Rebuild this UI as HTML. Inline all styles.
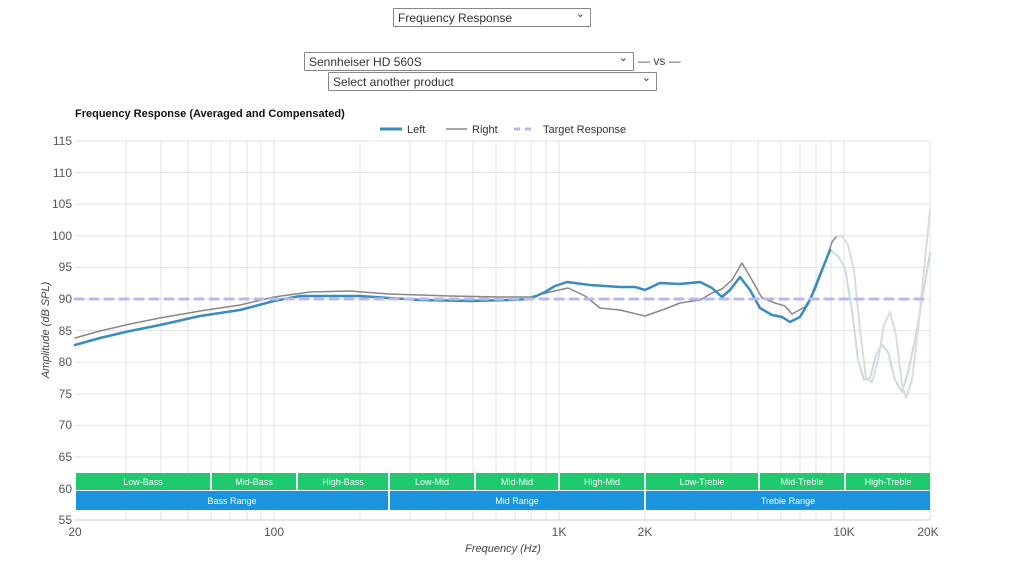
<!DOCTYPE html>
<html><head><meta charset="utf-8"><style>
body{margin:0;width:1024px;height:576px;background:#fff;font-family:"Liberation Sans",sans-serif;overflow:hidden;position:relative}
.sel{position:absolute;border:1px solid #888;background:#fff;font-size:12px;color:#333;height:18px;line-height:18px;padding-left:4px;box-sizing:border-box;border-radius:1px}
.sel:after{content:"⌄";position:absolute;right:5px;top:-4px;font-size:11px}
</style></head><body>
<div class="sel" style="left:393px;top:8px;width:198px;height:19px">Frequency Response</div>
<div class="sel" style="left:304px;top:52px;width:330px;height:19px">Sennheiser HD 560S</div>
<div style="position:absolute;left:638px;top:54px;font-size:12px;color:#444">— vs —</div>
<div class="sel" style="left:328px;top:72px;width:329px;height:19px">Select another product</div>
<svg width="1024" height="576" style="position:absolute;left:0;top:0" font-family="Liberation Sans, sans-serif">
<text x="75" y="117" font-size="11" font-weight="bold" fill="#111">Frequency Response (Averaged and Compensated)</text>
<line x1="380" y1="129" x2="402" y2="129" stroke="#3a8cc0" stroke-width="3"/><text x="407" y="133" font-size="11" fill="#333">Left</text>
<line x1="446" y1="129" x2="467" y2="129" stroke="#888" stroke-width="1.5"/><text x="472" y="133" font-size="11" fill="#333">Right</text>
<line x1="514" y1="129" x2="536" y2="129" stroke="#b8b8f0" stroke-width="3" stroke-dasharray="6,5"/><text x="543" y="133" font-size="11" fill="#333">Target Response</text>
<g stroke="#e3e3e3" stroke-width="1">
<line x1="75" y1="141" x2="930" y2="141"/><line x1="75" y1="172.6" x2="930" y2="172.6"/><line x1="75" y1="204.2" x2="930" y2="204.2"/><line x1="75" y1="235.8" x2="930" y2="235.8"/><line x1="75" y1="267.4" x2="930" y2="267.4"/><line x1="75" y1="299" x2="930" y2="299"/><line x1="75" y1="330.6" x2="930" y2="330.6"/><line x1="75" y1="362.2" x2="930" y2="362.2"/><line x1="75" y1="393.8" x2="930" y2="393.8"/><line x1="75" y1="425.4" x2="930" y2="425.4"/><line x1="75" y1="457" x2="930" y2="457"/><line x1="75" y1="488.6" x2="930" y2="488.6"/>
<line x1="126" y1="141" x2="126" y2="520"/><line x1="161" y1="141" x2="161" y2="520"/><line x1="188" y1="141" x2="188" y2="520"/><line x1="211" y1="141" x2="211" y2="520"/><line x1="230" y1="141" x2="230" y2="520"/><line x1="247" y1="141" x2="247" y2="520"/><line x1="261" y1="141" x2="261" y2="520"/><line x1="274" y1="141" x2="274" y2="520"/>
<line x1="360" y1="141" x2="360" y2="520"/><line x1="410" y1="141" x2="410" y2="520"/><line x1="446" y1="141" x2="446" y2="520"/><line x1="473" y1="141" x2="473" y2="520"/><line x1="496" y1="141" x2="496" y2="520"/><line x1="515" y1="141" x2="515" y2="520"/><line x1="531" y1="141" x2="531" y2="520"/><line x1="546" y1="141" x2="546" y2="520"/><line x1="559" y1="141" x2="559" y2="520"/>
<line x1="645" y1="141" x2="645" y2="520"/><line x1="695" y1="141" x2="695" y2="520"/><line x1="731" y1="141" x2="731" y2="520"/><line x1="758" y1="141" x2="758" y2="520"/><line x1="781" y1="141" x2="781" y2="520"/><line x1="800" y1="141" x2="800" y2="520"/><line x1="816" y1="141" x2="816" y2="520"/><line x1="831" y1="141" x2="831" y2="520"/><line x1="844" y1="141" x2="844" y2="520"/><line x1="930" y1="141" x2="930" y2="520"/>
</g>
<line x1="75" y1="520" x2="930" y2="520" stroke="#ccc"/>
<g font-size="12" fill="#555" text-anchor="end">
<text x="72" y="145">115</text><text x="72" y="177">110</text><text x="72" y="208">105</text><text x="72" y="240">100</text><text x="72" y="271">95</text><text x="72" y="303">90</text><text x="72" y="335">85</text><text x="72" y="366">80</text><text x="72" y="398">75</text><text x="72" y="429">70</text><text x="72" y="461">65</text><text x="72" y="493">60</text><text x="72" y="524">55</text>
</g>
<g font-size="12" fill="#555" text-anchor="middle">
<text x="75" y="536">20</text><text x="274" y="536">100</text><text x="559" y="536">1K</text><text x="645" y="536">2K</text><text x="844" y="536">10K</text><text x="928" y="536">20K</text>
</g>
<text x="503" y="552" font-size="11" font-style="italic" fill="#444" text-anchor="middle">Frequency (Hz)</text>
<text transform="translate(49,330) rotate(-90)" font-size="11" font-style="italic" fill="#444" text-anchor="middle">Amplitude (dB SPL)</text>
<g fill="#1fc96e"><rect x="76" y="473" width="134" height="17"/><rect x="212" y="473" width="84" height="17"/><rect x="298" y="473" width="90" height="17"/><rect x="390" y="473" width="84" height="17"/><rect x="476" y="473" width="82" height="17"/><rect x="560" y="473" width="84" height="17"/><rect x="646" y="473" width="112" height="17"/><rect x="760" y="473" width="84" height="17"/><rect x="846" y="473" width="84" height="17"/></g>
<g fill="#1a94de"><rect x="76" y="491" width="312" height="19"/><rect x="390" y="491" width="254" height="19"/><rect x="646" y="491" width="284" height="19"/></g>
<g font-size="9" fill="#fff" text-anchor="middle">
<text x="143" y="485">Low-Bass</text><text x="254" y="485">Mid-Bass</text><text x="343" y="485">High-Bass</text><text x="432" y="485">Low-Mid</text><text x="517" y="485">Mid-Mid</text><text x="602" y="485">High-Mid</text><text x="702" y="485">Low-Treble</text><text x="802" y="485">Mid-Treble</text><text x="888" y="485">High-Treble</text>
<text x="232" y="504">Bass Range</text><text x="517" y="504">Mid Range</text><text x="788" y="504">Treble Range</text>
</g>
<g fill="none" stroke-linejoin="round" stroke-linecap="round">
<polyline stroke="#c8dbe6" stroke-width="2" points="830,250 838,256 845,268 852,310 858,360 864,380 870,378 876,355 882,345 888,352 895,380 902,392 908,372 915,340 922,300 930,253"/>
<polyline stroke="#dcdcdc" stroke-width="2" points="836,237 842,236 848,245 854,270 860,330 866,378 872,382 878,360 884,325 890,312 896,335 902,385 906,398 912,380 918,330 924,270 930,210"/>
<polyline stroke="#888" stroke-width="1.5" points="75,338 100,331 130,324 160,318 200,311 240,305 274,297 310,292 350,291 389,294 450,296 500,297 530,297 550,292 568,288 585,296 600,308 620,310 645,316 665,309 680,303 700,300 712,293 722,289 732,280 742,263 752,280 762,298 775,303 785,306 792,314 805,307 815,290 825,263 832,242 836,237"/>
<polyline stroke="#3a8cc0" stroke-width="2.5" points="75,345 100,338 130,331 160,325 200,316 240,310 274,301 300,296 330,296 360,296 389,298 420,300 470,301 510,300 530,299 545,292 555,286 567,282 590,285 620,287 635,287 645,290 660,283 680,284 700,282 712,288 722,297 730,290 740,277 750,290 760,308 772,315 782,317 790,322 800,317 810,300 820,275 830,250"/>
<line x1="75" y1="299" x2="930" y2="299" stroke="#b8b8f0" stroke-width="3" stroke-dasharray="8,7"/>
</g>
</svg>
</body></html>
